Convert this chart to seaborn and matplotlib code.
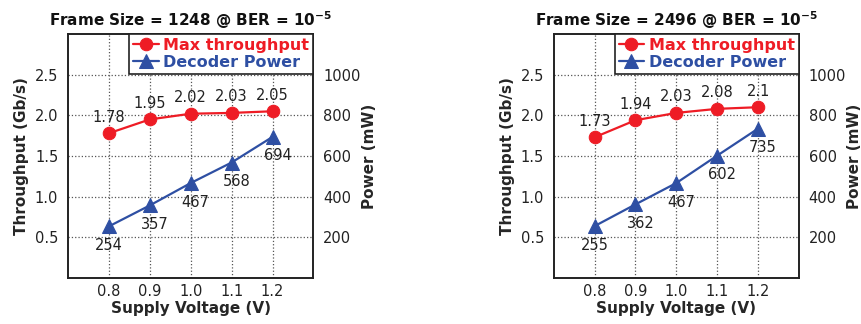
import numpy as np
import pandas as pd
import matplotlib.pyplot as plt
import seaborn as sns

voltage = [0.8, 0.9, 1.0, 1.1, 1.2]
frame_sizes = [1248, 2496]
throughput_1248 = [1.78, 1.95, 2.02, 2.03, 2.05]
power_1248 = [254, 357, 467, 568, 694]
throughput_2496 = [1.73, 1.94, 2.03, 2.08, 2.10]
power_2496 = [255, 362, 467, 602, 735]
tp_labels_1248 = ['1.78', '1.95', '2.02', '2.03', '2.05']
tp_labels_2496 = ['1.73', '1.94', '2.03', '2.08', '2.1']

RED = '#ee1c25'
BLUE = '#2e4fa3'

sns.set_style('white')
plt.rcParams['font.family'] = ['DejaVu Sans']


def draw_panel(fig, rect, frame, tp, pw, tp_lab):
    df = pd.DataFrame({'V': voltage, 'tp': tp, 'pw': pw})
    ax = fig.add_axes(rect)
    ax2 = ax.twinx()

    sns.lineplot(data=df, x='V', y='tp', ax=ax, color=RED, marker='o',
                 markersize=9, markeredgecolor=RED, linewidth=1.6,
                 label='Max throughput', legend=False)
    sns.lineplot(data=df, x='V', y='pw', ax=ax2, color=BLUE, marker='^',
                 markersize=10, markeredgecolor=BLUE, linewidth=1.6,
                 label='Decoder Power', legend=False)

    ax.set_xlim(0.7, 1.3)
    ax.set_ylim(0, 3)
    ax2.set_ylim(0, 1200)
    ax.set_xticks(voltage)
    ax.set_xticklabels([f'{v:.1f}' for v in voltage])
    ax.set_yticks([0.5, 1.0, 1.5, 2.0, 2.5])
    ax2.set_yticks([200, 400, 600, 800, 1000])

    ax.grid(True, linestyle=':', color='#555555', linewidth=0.9)
    ax.set_axisbelow(True)
    ax.tick_params(axis='y', length=0, labelsize=10.5, colors='#222222', pad=7)
    ax.tick_params(axis='x', length=0, labelsize=10.5, colors='#222222', pad=4)
    ax2.tick_params(length=0, labelsize=10.5, colors='#222222', pad=7)
    for a in (ax, ax2):
        for s in a.spines.values():
            s.set_color('#222222')
            s.set_linewidth(1.2)

    ax.set_xlabel('Supply Voltage (V)', fontsize=11, fontweight='bold', labelpad=2)
    ax.set_ylabel('Throughput (Gb/s)', fontsize=11, fontweight='bold', labelpad=4)
    ax2.set_ylabel('Power (mW)', fontsize=11, fontweight='bold', labelpad=1)
    ax.set_title(f'Frame Size = {frame} @ BER = 10$^{{\\mathbf{{-5}}}}$',
                 fontsize=11, fontweight='bold', pad=6, color='#111111')

    for x, y, t in zip(voltage, tp, tp_lab):
        ax.annotate(t, (x, y), xytext=(0, 16), textcoords='offset pixels',
                    ha='center', va='center', fontsize=10.5, color='#222222')
    for i, (x, y) in enumerate(zip(voltage, pw)):
        dx = 0 if i == 0 else 5
        ax2.annotate(str(y), (x, y), xytext=(dx, -19), textcoords='offset pixels',
                     ha='center', va='center', fontsize=10.5, color='#222222')

    h1, l1 = ax.get_legend_handles_labels()
    h2, l2 = ax2.get_legend_handles_labels()
    leg = ax2.legend(h1 + h2, l1 + l2, loc='upper right', borderaxespad=0,
                     frameon=True, fancybox=False, edgecolor='#222222',
                     framealpha=1, handlelength=1.6, handletextpad=0.3,
                     borderpad=0.25, labelspacing=0.12,
                     prop={'weight': 'bold', 'size': 11.5})
    leg.get_frame().set_linewidth(1.2)
    for txt, c in zip(leg.get_texts(), [RED, BLUE]):
        txt.set_color(c)


fig = plt.figure(figsize=(8.61, 3.24), dpi=100)
draw_panel(fig, [0.079, 0.142, 0.285, 0.753], frame_sizes[0],
           throughput_1248, power_1248, tp_labels_1248)
draw_panel(fig, [0.643, 0.142, 0.285, 0.753], frame_sizes[1],
           throughput_2496, power_2496, tp_labels_2496)

fig.savefig('out.png', dpi=100)
